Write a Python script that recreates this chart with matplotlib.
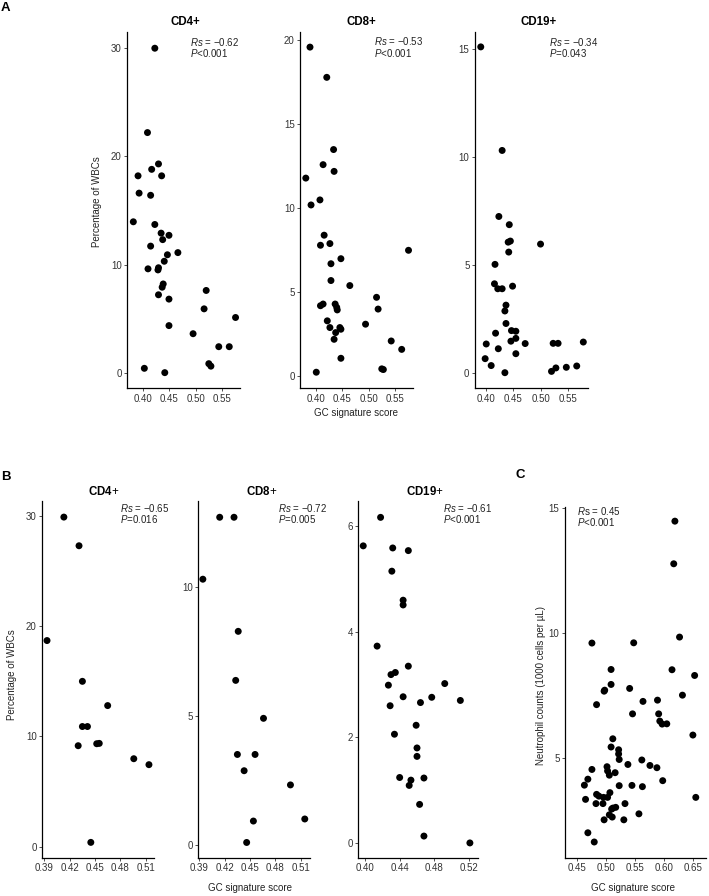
import numpy as np
import matplotlib
matplotlib.use("Agg")
import matplotlib.pyplot as plt

plt.rcParams['font.family'] = ['Liberation Sans', 'DejaVu Sans']
plt.rcParams['mathtext.fontset'] = 'custom'
plt.rcParams['mathtext.it'] = 'Liberation Sans:italic'
plt.rcParams['mathtext.rm'] = 'Liberation Sans'
plt.rcParams['mathtext.bf'] = 'Liberation Sans:bold'

W, H = 709, 896

# ---- panel A: discovery cohort ----
a_cd4_x = [0.422, 0.408, 0.429, 0.416, 0.390, 0.435, 0.392, 0.414, 0.381, 0.422,
           0.434, 0.449, 0.437, 0.414, 0.466, 0.446, 0.440, 0.429, 0.409, 0.428,
           0.438, 0.436, 0.429, 0.520, 0.449, 0.516, 0.576, 0.449, 0.495, 0.544,
           0.564, 0.525, 0.529, 0.402, 0.441]
a_cd4_y = [30.0, 22.2, 19.3, 18.8, 18.2, 18.2, 16.6, 16.4, 13.95, 13.7,
           12.9, 12.7, 12.3, 11.7, 11.1, 10.9, 10.3, 9.7, 9.6, 9.5,
           8.2, 7.9, 7.2, 7.6, 6.8, 5.9, 5.1, 4.35, 3.6, 2.4,
           2.4, 0.83, 0.6, 0.4, 0.0]

a_cd8_x = [0.388, 0.420, 0.433, 0.413, 0.434, 0.380, 0.407, 0.390, 0.415, 0.408,
           0.426, 0.576, 0.447, 0.428, 0.428, 0.464, 0.515, 0.518, 0.408, 0.413,
           0.436, 0.439, 0.440, 0.421, 0.426, 0.437, 0.445, 0.447, 0.434, 0.494,
           0.543, 0.563, 0.447, 0.400, 0.525, 0.528]
a_cd8_y = [19.6, 17.8, 13.5, 12.6, 12.2, 11.8, 10.5, 10.2, 8.4, 7.8,
           7.9, 7.5, 7.0, 6.7, 5.7, 5.4, 4.7, 4.0, 4.2, 4.3,
           4.3, 4.1, 3.95, 3.3, 2.9, 2.6, 2.9, 2.8, 2.2, 3.1,
           2.1, 1.6, 1.07, 0.24, 0.44, 0.40]

a_cd19_x = [0.391, 0.430, 0.424, 0.443, 0.441, 0.445, 0.442, 0.500, 0.417, 0.416,
            0.422, 0.430, 0.449, 0.437, 0.435, 0.437, 0.418, 0.447, 0.455, 0.446,
            0.455, 0.472, 0.401, 0.423, 0.455, 0.399, 0.410, 0.435, 0.523, 0.532,
            0.578, 0.520, 0.528, 0.547, 0.566]
a_cd19_y = [15.1, 10.3, 7.24, 6.86, 6.05, 6.10, 5.59, 5.96, 5.02, 4.12,
            3.89, 3.89, 4.01, 3.13, 2.86, 2.28, 1.83, 1.95, 1.92, 1.46,
            1.59, 1.35, 1.33, 1.11, 0.88, 0.65, 0.33, 0.0, 1.36, 1.36,
            1.42, 0.06, 0.22, 0.25, 0.31]

# ---- panel B: validation cohort ----
b_cd4_x = [0.413, 0.431, 0.393, 0.435, 0.465, 0.435, 0.441, 0.430, 0.452, 0.455,
           0.496, 0.514, 0.445]
b_cd4_y = [29.9, 27.3, 18.7, 15.0, 12.8, 10.9, 10.9, 9.16, 9.34, 9.37,
           7.98, 7.44, 0.39]

b_cd8_x = [0.394, 0.414, 0.431, 0.436, 0.433, 0.435, 0.466, 0.456, 0.443, 0.498,
           0.454, 0.515, 0.446]
b_cd8_y = [10.3, 12.7, 12.7, 8.28, 6.38, 3.51, 4.91, 3.51, 2.88, 2.33,
           0.93, 1.01, 0.10]

b_cd19_x = [0.398, 0.418, 0.432, 0.450, 0.431, 0.444, 0.444, 0.414, 0.450, 0.430,
            0.435, 0.427, 0.492, 0.444, 0.477, 0.464, 0.510, 0.429, 0.459, 0.434,
            0.460, 0.460, 0.440, 0.453, 0.468, 0.451, 0.463, 0.468, 0.521]
b_cd19_y = [5.63, 6.17, 5.59, 5.54, 5.15, 4.60, 4.51, 3.73, 3.35, 3.19,
            3.23, 2.99, 3.02, 2.77, 2.76, 2.66, 2.70, 2.60, 2.23, 2.06,
            1.80, 1.64, 1.24, 1.19, 1.23, 1.09, 0.73, 0.13, 0.0]

# ---- panel C: neutrophils ----
c_x = [0.618, 0.616, 0.626, 0.475, 0.547, 0.508, 0.613, 0.652, 0.508, 0.496,
       0.497, 0.540, 0.483, 0.631, 0.563, 0.588, 0.545, 0.590, 0.592, 0.596,
       0.604, 0.649, 0.511, 0.508, 0.521, 0.521, 0.522, 0.561, 0.537, 0.575,
       0.587, 0.475, 0.501, 0.502, 0.505, 0.515, 0.468, 0.462, 0.597, 0.522,
       0.544, 0.562, 0.506, 0.483, 0.487, 0.495, 0.502, 0.654, 0.464, 0.482,
       0.494, 0.532, 0.511, 0.516, 0.509, 0.505, 0.496, 0.510, 0.530, 0.556,
       0.468, 0.479]
c_y = [14.49, 12.78, 9.84, 9.60, 9.61, 8.54, 8.53, 8.30, 7.94, 7.67,
       7.71, 7.78, 7.13, 7.51, 7.26, 7.31, 6.76, 6.76, 6.47, 6.35,
       6.36, 5.91, 5.76, 5.43, 5.32, 5.15, 4.93, 4.91, 4.73, 4.69,
       4.60, 4.53, 4.64, 4.47, 4.30, 4.40, 4.14, 3.90, 4.08, 3.88,
       3.89, 3.84, 3.60, 3.53, 3.46, 3.41, 3.41, 3.41, 3.33, 3.16,
       3.16, 3.16, 2.98, 3.01, 2.94, 2.71, 2.51, 2.62, 2.51, 2.75,
       1.99, 1.62]

a_xticks = [0.40, 0.45, 0.50, 0.55]
a_xlabels = ['0.40', '0.45', '0.50', '0.55']
b_xticks = [0.39, 0.42, 0.45, 0.48, 0.51]
b_xlabels = ['0.39', '0.42', '0.45', '0.48', '0.51']
b19_xticks = [0.40, 0.44, 0.48, 0.52]
b19_xlabels = ['0.40', '0.44', '0.48', '0.52']
c_xticks = [0.45, 0.50, 0.55, 0.60, 0.65]
c_xlabels = ['0.45', '0.50', '0.55', '0.60', '0.65']

TICK_FS = 7
ANN_FS = 7
LAB_FS = 7
TITLE_FS = 8.3


def px(x, y):
    return x / W, 1 - y / H


def make_ax(fig, l, r, t, b):
    ax = fig.add_axes([l / W, 1 - b / H, (r - l) / W, (b - t) / H])
    for s in ['top', 'right']:
        ax.spines[s].set_visible(False)
    for s in ['left', 'bottom']:
        ax.spines[s].set_linewidth(0.9)
    ax.tick_params(length=2.5, width=0.6, pad=1.5, labelsize=TICK_FS,
                   labelcolor='#333333', color='#333333')
    ax.patch.set_alpha(0)
    return ax


def scatter_panel(ax, xs, ys, xlim, ylim, xticks, xlabels, yticks):
    ax.scatter(xs, ys, s=25, color='black', edgecolors='none', zorder=3)
    ax.set_xlim(*xlim)
    ax.set_ylim(*ylim)
    ax.set_xticks(xticks)
    ax.set_xticklabels(xlabels)
    ax.set_yticks(yticks)


def two_lines(fig, x, y1, y2, l1, l2):
    fig.text(*px(x, y1), l1, fontsize=ANN_FS, ha='left', va='center', color='#222222')
    fig.text(*px(x, y2), l2, fontsize=ANN_FS, ha='left', va='center', color='#222222')


fig = plt.figure(figsize=(W / 100, H / 100), dpi=100)

# panel A
ax = make_ax(fig, 127.3, 240, 32, 388)
scatter_panel(ax, a_cd4_x, a_cd4_y, (0.3695, 0.5845), (-1.42, 31.5), a_xticks, a_xlabels, [0, 10, 20, 30])
ax = make_ax(fig, 300.3, 412.7, 32, 388)
scatter_panel(ax, a_cd8_x, a_cd8_y, (0.3695, 0.584), (-0.7, 20.5), a_xticks, a_xlabels, [0, 5, 10, 15, 20])
ax = make_ax(fig, 475, 587.7, 32, 388)
scatter_panel(ax, a_cd19_x, a_cd19_y, (0.3805, 0.586), (-0.71, 15.79), a_xticks, a_xlabels, [0, 5, 10, 15])

fig.text(*px(185, 22.3), 'CD4+', fontsize=TITLE_FS, fontweight='bold', ha='center', va='center')
fig.text(*px(361.7, 22.3), 'CD8+', fontsize=TITLE_FS, fontweight='bold', ha='center', va='center')
fig.text(*px(538.3, 22.3), 'CD19+', fontsize=TITLE_FS, fontweight='bold', ha='center', va='center')

two_lines(fig, 190, 41.7, 53, r'$\mathit{Rs}$ = −0.62', r'$\mathit{P}$<0.001')
two_lines(fig, 374, 41.3, 52.6, r'$\mathit{Rs}$ = −0.53', r'$\mathit{P}$<0.001')
two_lines(fig, 549.3, 41.7, 53, r'$\mathit{Rs}$ = −0.34', r'$\mathit{P}$=0.043')

fig.text(*px(96.7, 201.7), 'Percentage of WBCs', fontsize=LAB_FS, rotation=90,
         ha='center', va='center', color='#222222')
fig.text(*px(356, 413), 'GC signature score', fontsize=LAB_FS, ha='center', va='center', color='#222222')

# panel B
ax = make_ax(fig, 42.3, 154, 501, 857.7)
scatter_panel(ax, b_cd4_x, b_cd4_y, (0.3874, 0.52), (-1.0, 31.36), b_xticks, b_xlabels, [0, 10, 20, 30])
ax = make_ax(fig, 198.3, 310.5, 501, 857.7)
scatter_panel(ax, b_cd8_x, b_cd8_y, (0.3886, 0.5218), (-0.49, 13.33), b_xticks, b_xlabels, [0, 5, 10])
ax = make_ax(fig, 358.3, 478.3, 501, 857.7)
scatter_panel(ax, b_cd19_x, b_cd19_y, (0.3923, 0.5307), (-0.28, 6.48), b19_xticks, b19_xlabels, [0, 2, 4, 6])

fig.text(*px(103.3, 491.7), r'$\mathbf{CD4}$+', fontsize=TITLE_FS, ha='center', va='center')
fig.text(*px(261.7, 491.7), r'$\mathbf{CD8}$+', fontsize=TITLE_FS, ha='center', va='center')
fig.text(*px(425, 491.7), r'$\mathbf{CD19}$+', fontsize=TITLE_FS, ha='center', va='center')

two_lines(fig, 120, 508.3, 519.3, r'$\mathit{Rs}$ = −0.65', r'$\mathit{P}$=0.016')
two_lines(fig, 278.3, 508.3, 519.3, r'$\mathit{Rs}$ = −0.72', r'$\mathit{P}$=0.005')
two_lines(fig, 443.3, 508.3, 519.3, r'$\mathit{Rs}$ = −0.61', r'$\mathit{P}$<0.001')

fig.text(*px(11.7, 675), 'Percentage of WBCs', fontsize=LAB_FS, rotation=90,
         ha='center', va='center', color='#222222')
fig.text(*px(250, 888.3), 'GC signature score', fontsize=LAB_FS, ha='center', va='center', color='#222222')

# panel C
ax = make_ax(fig, 565, 706, 506.7, 857.7)
scatter_panel(ax, c_x, c_y, (0.4286, 0.6716), (0.99, 15.07), c_xticks, c_xlabels, [5, 10, 15])
two_lines(fig, 577.3, 510.7, 521.7, r'$\mathit{R}$s = 0.45', r'$\mathit{P}$<0.001')
fig.text(*px(541, 685), 'Neutrophil counts (1000 cells per µL)', fontsize=LAB_FS, rotation=90,
         ha='center', va='center', color='#222222')
fig.text(*px(633, 888.3), 'GC signature score', fontsize=LAB_FS, ha='center', va='center', color='#222222')

# panel letters
fig.text(*px(5.5, 8), 'A', fontsize=9.5, fontweight='bold', ha='center', va='center')
fig.text(*px(5.5, 477.3), 'B', fontsize=9.5, fontweight='bold', ha='center', va='center')
fig.text(*px(520, 475), 'C', fontsize=9.5, fontweight='bold', ha='center', va='center')

fig.savefig('out.png', dpi=100)
